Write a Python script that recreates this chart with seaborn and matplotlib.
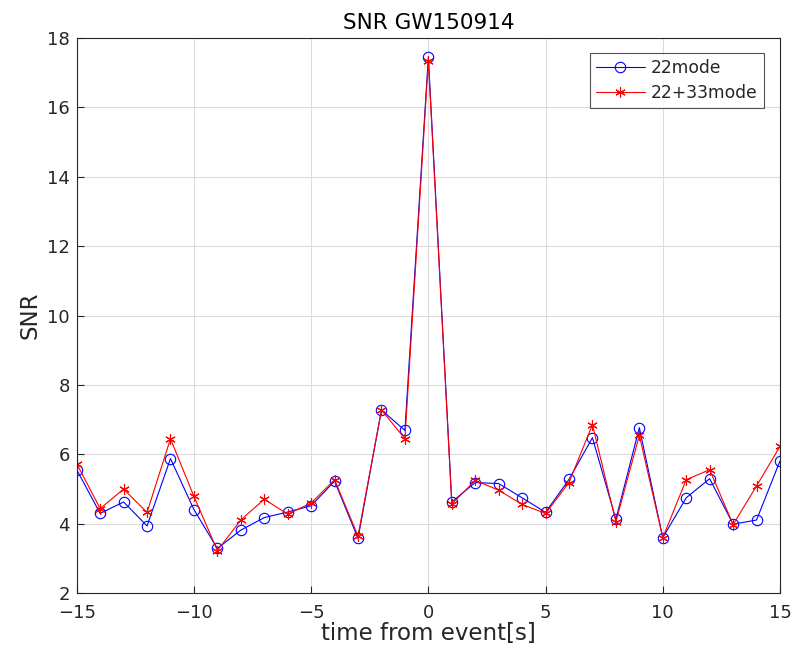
import numpy as np
import pandas as pd
import matplotlib
matplotlib.use("Agg")
import matplotlib.pyplot as plt
import seaborn as sns

t = list(range(-15, 16))
snr_22 = [5.56, 4.30, 4.63, 3.94, 5.88, 4.41, 3.29, 3.82, 4.18, 4.34, 4.52,
          5.23, 3.58, 7.28, 6.69, 17.45, 4.63, 5.19, 5.16, 4.75, 4.33,
          5.28, 6.48, 4.13, 6.77, 3.60, 4.75, 5.30, 3.99, 4.11, 5.81]
snr_2233 = [5.73, 4.44, 5.00, 4.33, 6.45, 4.79, 3.23, 4.11, 4.71, 4.28, 4.60,
            5.27, 3.65, 7.28, 6.45, 17.33, 4.57, 5.25, 4.97, 4.56, 4.30,
            5.19, 6.86, 4.06, 6.55, 3.60, 5.27, 5.56, 3.98, 5.09, 6.23]
labels = ["22mode", "22+33mode"]

sns.set_theme(style="white")
plt.rcParams['font.family'] = ['DejaVu Sans']
plt.rcParams['axes.unicode_minus'] = True

fig = plt.figure(figsize=(7.95, 6.62), dpi=100)
ax = fig.add_axes([0.0965, 0.1038, 0.8846, 0.8392])

df1 = pd.DataFrame({"t": t, "snr": snr_22})
df2 = pd.DataFrame({"t": t, "snr": snr_2233})

sns.lineplot(data=df1, x="t", y="snr", ax=ax, color="#0000ff", lw=0.8,
             marker="o", markersize=7.5, markerfacecolor="none",
             markeredgecolor="#0000ff", markeredgewidth=0.8, label=labels[0])
sns.lineplot(data=df2, x="t", y="snr", ax=ax, color="#ff0000", lw=0.8,
             marker=(6, 2, 0), markersize=7.5,
             markeredgecolor="#ff0000", markeredgewidth=0.8, label=labels[1])

ax.set_xlim(-15, 15)
ax.set_ylim(2, 18)
ax.set_xticks(np.arange(-15, 16, 5))
ax.set_yticks(np.arange(2, 19, 2))
ax.grid(True, color="#dcdcdc", lw=0.8)
for s in ax.spines.values():
    s.set_color("#262626")
    s.set_linewidth(0.8)
ax.tick_params(direction="in", length=5, width=0.8, colors="#262626",
               labelsize=13, top=False, right=False, bottom=True, left=True)
ax.tick_params(axis="x", pad=8)
ax.tick_params(axis="y", pad=5)
ax.set_xlabel("time from event[s]", fontsize=16.5, color="#262626", labelpad=0)
ax.set_ylabel("SNR", fontsize=16.5, color="#262626", labelpad=4)
ax.set_title("SNR GW150914", fontsize=15.5, color="black", pad=6)

leg = ax.legend(loc="upper right", bbox_to_anchor=(0.977, 0.9725), fontsize=12.3,
                frameon=True, fancybox=False, edgecolor="#262626",
                borderpad=0.35, handlelength=2.9, labelspacing=0.4,
                handletextpad=0.35, borderaxespad=0)
leg.get_frame().set_linewidth(0.8)

fig.savefig("out.png", dpi=100)
